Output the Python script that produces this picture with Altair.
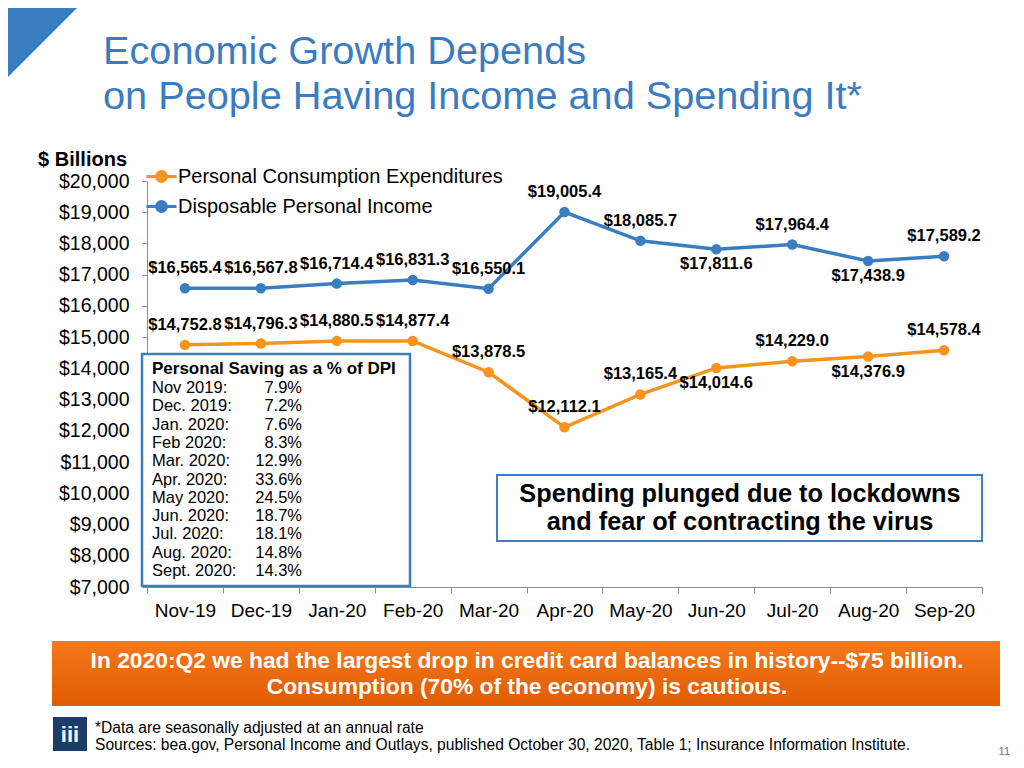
import altair as alt
import pandas as pd

# ---------------- data ----------------
MONTHS = ["Nov-19", "Dec-19", "Jan-20", "Feb-20", "Mar-20", "Apr-20",
          "May-20", "Jun-20", "Jul-20", "Aug-20", "Sep-20"]
PCE = [14752.8, 14796.3, 14880.5, 14877.4, 13878.5, 12112.1,
       13165.4, 14014.6, 14229.0, 14376.9, 14578.4]
DPI = [16565.4, 16567.8, 16714.4, 16831.3, 16550.1, 19005.4,
       18085.7, 17811.6, 17964.4, 17438.9, 17589.2]
SERIES = ["Personal Consumption Expenditures", "Disposable Personal Income"]
Y_TICKS = list(range(7000, 20001, 1000))
LABEL_BELOW = ["Jun-20", "Aug-20"]

SAVING_MONTHS = ["Nov 2019:", "Dec. 2019:", "Jan. 2020:", "Feb 2020:", "Mar. 2020:",
                 "Apr. 2020:", "May 2020:", "Jun. 2020:", "Jul. 2020:", "Aug. 2020:",
                 "Sept. 2020:"]
SAVING_RATES = ["7.9%", "7.2%", "7.6%", "8.3%", "12.9%", "33.6%", "24.5%",
                "18.7%", "18.1%", "14.8%", "14.3%"]

TITLE_LINES = ["Economic Growth Depends", "on People Having Income and Spending It*"]
CALLOUT_LINES = ["Spending plunged due to lockdowns", "and fear of contracting the virus"]
BANNER_LINES = ["In 2020:Q2 we had the largest drop in credit card balances in history--$75 billion.",
                "Consumption (70% of the economy) is cautious."]
FOOTER_LINES = ["*Data are seasonally adjusted at an annual rate",
                "Sources: bea.gov, Personal Income and Outlays, published October 30, 2020, Table 1; Insurance Information Institute."]

# ---------------- style ----------------
FONT = "Liberation Sans"
BLUE = "#3a7dc0"
ORANGE = "#f7941d"
TITLE_BLUE = "#3b7cc0"
GRAY = "#8c8c8c"
COLORS = [ORANGE, BLUE]

OX, OY = 147, 181          # page position of plot origin
W, H = 835, 406


def px(x):
    return x - OX


def py(y):
    return y - OY


one = pd.DataFrame({"a": [0]})


def txt(text, x, y, size, color="black", bold=False, align="left", font=FONT, **kw):
    return alt.Chart(one).mark_text(
        align=align, baseline="middle", fontSize=size, font=font, color=color,
        fontWeight="bold" if bold else "normal", **kw
    ).encode(x=alt.value(px(x)), y=alt.value(py(y)), text=alt.value(text))


def box(x1, y1, x2, y2, fill="white", stroke=None, sw=0):
    kw = dict(fill=fill)
    if stroke:
        kw.update(stroke=stroke, strokeWidth=sw)
    return alt.Chart(one).mark_rect(**kw).encode(
        x=alt.value(px(x1)), x2=alt.value(px(x2)),
        y=alt.value(py(y1)), y2=alt.value(py(y2)))


# ---------------- main chart ----------------
rows = []
for s, vals in zip(SERIES, [PCE, DPI]):
    for m, v in zip(MONTHS, vals):
        rows.append({"month": m, "series": s, "value": v})
df = pd.DataFrame(rows)

x_enc = alt.X("month:N", sort=MONTHS,
              scale=alt.Scale(type="band", paddingInner=0, paddingOuter=0),
              bandPosition=0.5,
              axis=alt.Axis(title=None, tickBand="extent", labelAngle=0,
                            labelFontSize=19, labelFont=FONT, labelColor="black",
                            tickColor=GRAY, domainColor=GRAY, tickSize=6,
                            labelPadding=8, grid=False))
y_enc = alt.Y("value:Q",
              scale=alt.Scale(domain=[7000, 20000], nice=False, zero=False),
              axis=alt.Axis(title=None, values=Y_TICKS, format="$,.0f", grid=False,
                            labelFontSize=19.5, labelFont=FONT, labelColor="black",
                            tickColor=GRAY, domainColor=GRAY, tickSize=5,
                            labelPadding=13))

LEG_PATH = ("M-1,0L1,0M-0.33,0A0.33,0.33 0 1,0 0.33,0"
            "A0.33,0.33 0 1,0 -0.33,0Z")
color_enc = alt.Color("series:N", scale=alt.Scale(domain=SERIES, range=COLORS),
                      legend=alt.Legend(title=None, orient="none", legendX=-2, legendY=-21,
                                        direction="vertical", symbolType=LEG_PATH,
                                        symbolSize=900, symbolStrokeWidth=3,
                                        symbolOpacity=1,
                                        symbolFillColor=alt.ExprRef("scale('color', datum.value)"),
                                        symbolStrokeColor=alt.ExprRef("scale('color', datum.value)"),
                                        labelFontSize=20, labelFont=FONT, labelColor="black",
                                        labelOffset=0, rowPadding=2, padding=0,
                                        labelLimit=500))

base = alt.Chart(df).encode(x=x_enc, y=y_enc)
lines = base.mark_line(strokeWidth=3.5).encode(color=color_enc)
points = base.mark_point(filled=True, size=110, opacity=1).encode(color=color_enc)
lab_common = dict(fontSize=16.5, font=FONT, fontWeight="bold", color="black",
                  baseline="middle", align="center")
labels_above = base.mark_text(dy=-20, **lab_common).encode(
    text=alt.Text("value:Q", format="$,.1f")
).transform_filter(~alt.FieldOneOfPredicate(field="month", oneOf=LABEL_BELOW))
labels_below = base.mark_text(dy=15, **lab_common).encode(
    text=alt.Text("value:Q", format="$,.1f")
).transform_filter(alt.FieldOneOfPredicate(field="month", oneOf=LABEL_BELOW))

# ---------------- decorations ----------------
triangle = alt.Chart(one).mark_point(
    shape="M-1,-1L1,-1L-1,1Z", filled=True, size=85 * 85, color=BLUE, opacity=1
).encode(x=alt.value(px(42.5)), y=alt.value(py(42.5)))

title1 = txt(TITLE_LINES[0], 103, 52, 39.7, color=TITLE_BLUE)
title2 = txt(TITLE_LINES[1], 103, 97, 39.7, color=TITLE_BLUE)
billions = txt("$ Billions", 127, 160, 20, bold=True, align="right")

saving_box = box(142, 354, 410, 586, fill="white", stroke=BLUE, sw=2.5)
saving_head = txt("Personal Saving as a % of DPI", 152, 369, 17, bold=True)
saving_months = alt.Chart(one).mark_text(
    align="left", baseline="middle", fontSize=16.5, font=FONT, color="black",
    lineHeight=18.3
).encode(x=alt.value(px(152)), y=alt.value(py(388)), text=alt.value(SAVING_MONTHS))
saving_rates = alt.Chart(one).mark_text(
    align="right", baseline="middle", fontSize=16.5, font=FONT, color="black",
    lineHeight=18.3
).encode(x=alt.value(px(302)), y=alt.value(py(388)), text=alt.value(SAVING_RATES))

callout_box = box(497, 475, 982, 541, fill="white", stroke=BLUE, sw=2)
callout1 = txt(CALLOUT_LINES[0], 740, 494, 25.3, bold=True, align="center")
callout2 = txt(CALLOUT_LINES[1], 740, 522, 25.3, bold=True, align="center")

grad = alt.Gradient(gradient="linear",
                    stops=[alt.GradientStop(color="#f5791c", offset=0),
                           alt.GradientStop(color="#e05b02", offset=1)],
                    x1=0, x2=0, y1=0, y2=1)
banner = alt.Chart(one).mark_rect(fill=grad).encode(
    x=alt.value(px(52)), x2=alt.value(px(1000)),
    y=alt.value(py(641)), y2=alt.value(py(706)))
banner1 = txt(BANNER_LINES[0], 527, 661, 22.8, color="white", bold=True, align="center")
banner2 = txt(BANNER_LINES[1], 527, 687, 22.8, color="white", bold=True, align="center")

logo = box(53, 717, 87, 751, fill="#1b3d66")
logo_t = txt("iii", 70, 735, 22, color="white", bold=True, align="center")
foot1 = txt(FOOTER_LINES[0], 95, 728, 15.6)
foot2 = txt(FOOTER_LINES[1], 95, 745, 15.6)
pagenum = txt("11", 1010, 752, 11, color="#777777", align="right")

chart = alt.layer(
    triangle, title1, title2, billions,
    lines, points, labels_above, labels_below,
    saving_box, saving_head, saving_months, saving_rates,
    callout_box, callout1, callout2,
    banner, banner1, banner2,
    logo, logo_t, foot1, foot2, pagenum,
).properties(
    width=W, height=H,
    background="white",
    autosize=alt.AutoSizeParams(type="none"),
    padding={"left": OX - 8, "top": OY - 8, "right": 1006 - (OX - 8) - W,
             "bottom": 749 - (OY - 8) - H},
).configure(font=FONT).configure_view(stroke=None)

chart.save("out.html", embed_options={"renderer": "svg", "actions": False})
